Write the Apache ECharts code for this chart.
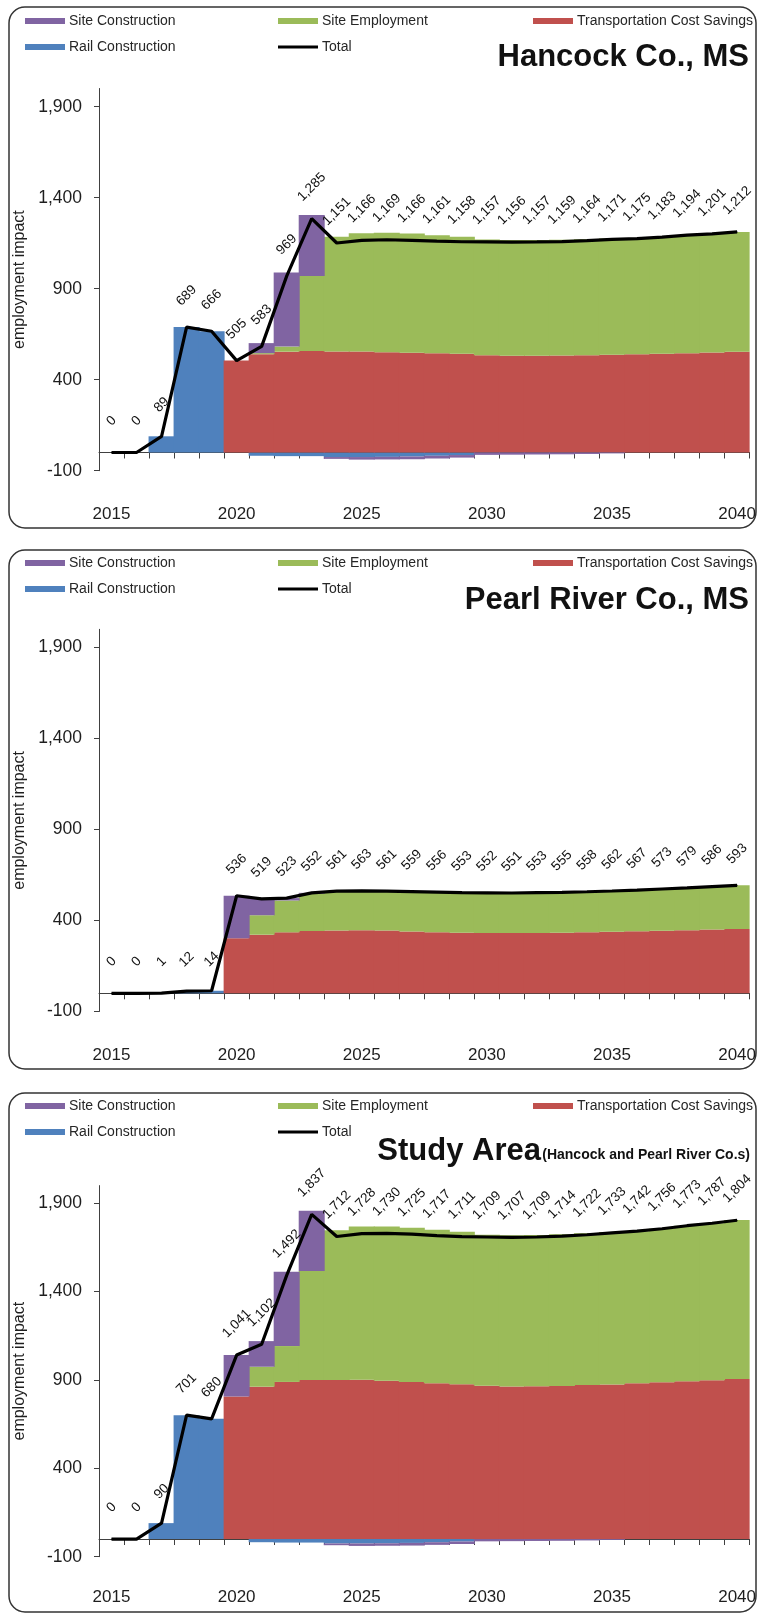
<!DOCTYPE html>
<html>
<head>
<meta charset="utf-8">
<script src="https://cdn.jsdelivr.net/npm/echarts@6/dist/echarts.min.js"></script>
<style>
  html, body { margin: 0; padding: 0; background: #ffffff; }
  #chart { width: 759px; height: 1614px; }
</style>
</head>
<body>
<div id="chart"></div>
<script>
// ---- data -------------------------------------------------------------
const years = ['2015','2016','2017','2018','2019','2020','2021','2022','2023','2024','2025','2026','2027',
               '2028','2029','2030','2031','2032','2033','2034','2035','2036','2037','2038','2039','2040'];
const yTickValues = [-100, 400, 900, 1400, 1900];

// Hancock Co., MS
const hancockRail      = [0,0,89,689,666,0,-18,-20,-20,-25,-25,-24,-22,-18,-14,0,0,0,0,0,0,0,0,0,0,0];
const hancockTransport = [0,0,0,0,0,505,540,554,558,555,555,551,548,546,543,535,532,532,533,535,537,540,543,546,549,553];
const hancockSiteEmp   = [0,0,0,0,0,0,6,28,412,631,650,656,655,648,643,635,636,636,636,637,639,635,640,648,652,659];
const hancockSiteCon   = [0,0,0,0,0,0,55,407,335,-10,-14,-14,-15,-15,-14,-13,-12,-11,-10,-8,-5,0,0,0,0,0];
const hancockTotal     = [0,0,89,689,666,505,583,969,1285,1151,1166,1169,1166,1161,1158,1157,1156,1157,1159,1164,1171,1175,1183,1194,1201,1212];

// Pearl River Co., MS
const pearlRail      = [0,0,1,12,14,0,0,0,0,0,0,0,0,0,0,0,0,0,0,0,0,0,0,0,0,0];
const pearlTransport = [0,0,0,0,0,302,322,335,342,345,347,345,340,336,333,332,331,332,333,336,338,341,344,347,350,353];
const pearlSiteEmp   = [0,0,0,0,0,0,107,175,205,216,216,216,219,220,220,220,220,221,222,222,224,226,229,232,236,240];
const pearlSiteCon   = [0,0,0,0,0,234,90,13,5,0,0,0,0,0,0,0,0,0,0,0,0,0,0,0,0,0];
const pearlTotal     = [0,0,1,12,14,536,519,523,552,561,563,561,559,556,553,552,551,553,555,558,562,567,573,579,586,593];

// Study Area (Hancock and Pearl River Co.s)
const studyRail      = [0,0,90,701,680,0,-18,-20,-20,-25,-25,-24,-22,-18,-14,0,0,0,0,0,0,0,0,0,0,0];
const studyTransport = [0,0,0,0,0,807,862,889,900,900,902,896,888,882,876,867,863,864,866,871,875,881,887,893,899,906];
const studySiteEmp   = [0,0,0,0,0,0,113,203,617,847,866,872,874,868,863,855,856,857,858,859,863,861,869,880,888,899];
const studySiteCon   = [0,0,0,0,0,234,145,420,340,-10,-14,-14,-15,-15,-14,-13,-12,-11,-10,-8,-5,0,0,0,0,0];
const studyTotal     = [0,0,90,701,680,1041,1102,1492,1837,1712,1728,1730,1725,1717,1711,1709,1707,1709,1714,1722,1733,1742,1756,1773,1787,1804];

// ---- styling ----------------------------------------------------------
const FONT = '"Liberation Sans", Arial, sans-serif';
const COLORS = {
  rail: '#4F81BD', transport: '#C0504D', siteEmp: '#9BBB59', siteCon: '#8064A2', total: '#000000'
};
const AXIS_COLOR = '#404040';
const TEXT_COLOR = '#1e1e1e';

function fmt(v) {
  return String(v).replace(/\B(?=(\d{3})+(?!\d))/g, ',');
}

const panels = [
  {
    title: 'Hancock Co., MS',
    data: { rail: hancockRail, transport: hancockTransport, siteEmp: hancockSiteEmp, siteCon: hancockSiteCon, total: hancockTotal },
    frame: { y: 7, h: 521 },
    grid: { top: 88.5, height: 382.2 },
    legendRows: [21, 47],
    titleY: 57,
    labelMargin: 35
  },
  {
    title: 'Pearl River Co., MS',
    data: { rail: pearlRail, transport: pearlTransport, siteEmp: pearlSiteEmp, siteCon: pearlSiteCon, total: pearlTotal },
    frame: { y: 550, h: 519 },
    grid: { top: 629.3, height: 382.2 },
    legendRows: [563, 589],
    titleY: 600,
    labelMargin: 35
  },
  {
    title: 'Study Area',
    subtitle: '(Hancock and Pearl River Co.s)',
    data: { rail: studyRail, transport: studyTransport, siteEmp: studySiteEmp, siteCon: studySiteCon, total: studyTotal },
    frame: { y: 1093, h: 519 },
    grid: { top: 1185.6, height: 371.1 },
    legendRows: [1106, 1132],
    titleY: 1162,
    labelMargin: 32
  }
];

const option = {
  animation: false,
  backgroundColor: '#ffffff',
  textStyle: { fontFamily: FONT },
  grid: [], xAxis: [], yAxis: [], series: [], legend: [], graphic: []
};

function legendItem(name, left, centerY, isLine) {
  return {
    data: [name],
    left: left,
    top: centerY - 7,
    padding: 0,
    icon: 'rect',
    itemWidth: 40,
    itemHeight: isLine ? 3 : 6,
    itemGap: 0,
    selectedMode: false,
    textStyle: { fontSize: 14, color: '#262626', fontFamily: FONT, padding: [0, 0, 0, -1] }
  };
}

panels.forEach((p, i) => {
  const stack = 'stack' + i;
  option.grid.push({ left: 99, right: 8.3, top: p.grid.top, height: p.grid.height, containLabel: false });

  option.xAxis.push({
    gridIndex: i,
    type: 'category',
    data: years,
    boundaryGap: true,
    axisLine: { show: true, onZero: true, lineStyle: { color: AXIS_COLOR, width: 1 } },
    axisTick: { show: true, interval: 0, length: 6, lineStyle: { color: AXIS_COLOR } },
    axisLabel: { interval: 4, margin: p.labelMargin, fontSize: 17, color: TEXT_COLOR, fontFamily: FONT },
    splitLine: { show: false }
  });

  option.yAxis.push({
    gridIndex: i,
    type: 'value',
    min: -100,
    max: 2000,
    interval: 500,
    name: 'employment impact',
    nameLocation: 'middle',
    nameGap: 64,
    nameTextStyle: { fontSize: 16, color: TEXT_COLOR, fontFamily: FONT },
    axisLine: { show: true, lineStyle: { color: AXIS_COLOR, width: 1 } },
    axisTick: { show: true, length: 5, customValues: yTickValues, lineStyle: { color: AXIS_COLOR } },
    axisLabel: { customValues: yTickValues, margin: 17, fontSize: 17.5, color: TEXT_COLOR, fontFamily: FONT, formatter: v => fmt(v) },
    splitLine: { show: false }
  });

  // columns are drawn a hair wider than their band so neighbours close up without seams
  const bar = (name, key) => ({
    name: name,
    type: 'bar',
    xAxisIndex: i,
    yAxisIndex: i,
    stack: stack,
    barWidth: 26,
    itemStyle: { color: COLORS[key] },
    emphasis: { disabled: true },
    data: p.data[key].map(v => (v === 0 ? '-' : v))
  });

  option.series.push(bar('Rail Construction', 'rail'));
  option.series.push(bar('Transportation Cost Savings', 'transport'));
  option.series.push(bar('Site Employment', 'siteEmp'));
  option.series.push(bar('Site Construction', 'siteCon'));
  option.series.push({
    name: 'Total',
    type: 'line',
    xAxisIndex: i,
    yAxisIndex: i,
    z: 5,
    symbol: 'circle',
    symbolSize: 1,
    showSymbol: true,
    itemStyle: { color: COLORS.total },
    lineStyle: { color: COLORS.total, width: 3.2 },
    emphasis: { disabled: true },
    label: {
      show: true,
      position: 'top',
      distance: 31,
      rotate: 45,
      align: 'center',
      verticalAlign: 'middle',
      fontSize: 13.5,
      color: '#111111',
      fontFamily: FONT,
      formatter: prm => fmt(prm.value)
    },
    data: p.data.total
  });

  const [r1, r2] = p.legendRows;
  option.legend.push(legendItem('Site Construction', 25, r1, false));
  option.legend.push(legendItem('Site Employment', 278, r1, false));
  option.legend.push(legendItem('Transportation Cost Savings', 533, r1, false));
  option.legend.push(legendItem('Rail Construction', 25, r2, false));
  option.legend.push(legendItem('Total', 278, r2, true));

  // rounded panel frame
  option.graphic.push({
    type: 'rect',
    silent: true,
    shape: { x: 9, y: p.frame.y, width: 747, height: p.frame.h, r: 16 },
    style: { fill: 'none', stroke: '#333333', lineWidth: 1.5 }
  });

  if (p.subtitle) {
    option.graphic.push({
      type: 'text', silent: true, x: 750, y: p.titleY,
      style: { text: p.subtitle, fill: '#111111', align: 'right', verticalAlign: 'bottom',
               font: 'bold 14px ' + FONT }
    });
    option.graphic.push({
      type: 'text', silent: true, x: 541, y: p.titleY + 5,
      style: { text: p.title, fill: '#111111', align: 'right', verticalAlign: 'bottom',
               font: 'bold 31px ' + FONT }
    });
  } else {
    option.graphic.push({
      type: 'text', silent: true, x: 749, y: p.titleY,
      style: { text: p.title, fill: '#111111', align: 'right', verticalAlign: 'middle',
               font: 'bold 31px ' + FONT }
    });
  }
});

const chart = echarts.init(document.getElementById('chart'), null, { renderer: 'canvas', width: 759, height: 1614 });
chart.setOption(option);
</script>
</body>
</html>
